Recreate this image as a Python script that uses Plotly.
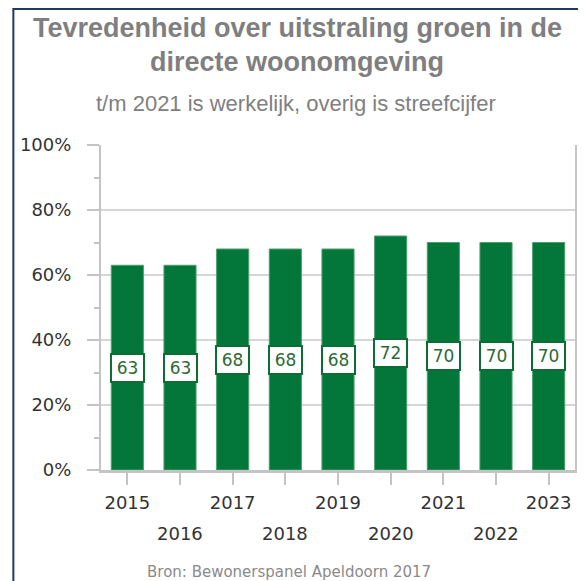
import plotly.graph_objects as go

# ---- data ----
years = ["2015", "2016", "2017", "2018", "2019", "2020", "2021", "2022", "2023"]
values = [63, 63, 68, 68, 68, 72, 70, 70, 70]
y_ticks = [0, 20, 40, 60, 80, 100]
y_tick_labels = ["0%", "20%", "40%", "60%", "80%", "100%"]
title_lines = ["Tevredenheid over uitstraling groen in de", "directe woonomgeving"]
subtitle = "t/m 2021 is werkelijk, overig is streefcijfer"
source = "Bron: Bewonerspanel Apeldoorn 2017"

# ---- layout geometry (page body adds an 8px offset) ----
OFF = 8
W, H = 586 - OFF, 581 - OFF
ML, MR, MT, MB = 101 - OFF, 9, 145 - OFF, 111
PW, PH = W - ML - MR, H - MT - MB


def px_x(px):
    return (px - OFF - ML) / PW


def px_y(py):
    return (H - MB - (py - OFF)) / PH


GREEN = "#03763A"
GRID = "#d6d6d6"
AXIS = "#c4c4c4"

fig = go.Figure()
fig.add_trace(go.Bar(
    x=years, y=values, width=0.61,
    marker=dict(color=GREEN, line=dict(color="#4f9e6c", width=1)),
    hoverinfo="skip",
))

annotations = []
# value labels (x given as category index so numeric-looking names are not read as positions)
for i, v in enumerate(values):
    annotations.append(dict(
        x=i, y=v / 2, xref="x", yref="y", text=str(v), showarrow=False,
        bgcolor="white", bordercolor="#0b6e35", borderwidth=2, borderpad=0,
        width=31, height=26,
        font=dict(family="DejaVu Sans", size=17, color="#2b6a36"),
    ))

# staggered x labels: even positions on the axis, odd positions one row lower
for i, yr in enumerate(years):
    if i % 2 == 1:
        annotations.append(dict(
            x=i, y=0, xref="x", yref="paper", yanchor="middle", yshift=-63,
            text=yr, showarrow=False,
            font=dict(family="DejaVu Sans", size=18, color="#333333"),
        ))

annotations += [
    dict(x=px_x(298), y=px_y(28), xref="paper", yref="paper", text="<b>%s</b>" % title_lines[0],
         showarrow=False, yanchor="middle", font=dict(family="Liberation Sans", size=27, color="#7f7f7f")),
    dict(x=px_x(298), y=px_y(62), xref="paper", yref="paper", text="<b>%s</b>" % title_lines[1],
         showarrow=False, yanchor="middle", font=dict(family="Liberation Sans", size=27, color="#7f7f7f")),
    dict(x=px_x(297), y=px_y(103), xref="paper", yref="paper", text=subtitle,
         showarrow=False, yanchor="middle", font=dict(family="Liberation Sans", size=22, color="#808080")),
    dict(x=px_x(290), y=px_y(572), xref="paper", yref="paper", text=source,
         showarrow=False, yanchor="middle", font=dict(family="DejaVu Sans", size=15, color="#8a8a8a")),
]

fig.update_layout(
    width=W, height=H,
    margin=dict(l=ML, r=MR, t=MT, b=MB, pad=0),
    paper_bgcolor="white", plot_bgcolor="white",
    showlegend=False,
    annotations=annotations,
    shapes=[dict(type="rect", xref="paper", yref="paper",
                 x0=px_x(13), x1=px_x(620), y0=px_y(620), y1=px_y(9),
                 line=dict(color="#1f3864", width=2), fillcolor="rgba(0,0,0,0)", layer="above")],
)

fig.update_xaxes(
    type="category", categoryorder="array", categoryarray=years,
    range=[-0.5, len(years) - 0.5], autorange=False,
    tickmode="array", tickvals=years,
    ticktext=[y if i % 2 == 0 else "" for i, y in enumerate(years)],
    tickangle=0,
    ticks="outside", ticklen=12, tickwidth=2, tickcolor=AXIS,
    showline=True, linecolor=AXIS, linewidth=3,
    showgrid=False, ticklabelstandoff=2,
    tickfont=dict(family="DejaVu Sans", size=18, color="#333333"),
)
fig.update_yaxes(
    range=[0, 100], autorange=False, tickmode="array", tickvals=y_ticks, ticktext=y_tick_labels,
    ticks="outside", ticklen=12, tickwidth=2, tickcolor=AXIS,
    showline=True, linecolor=AXIS, linewidth=2, mirror=True,
    showgrid=True, gridcolor=GRID, gridwidth=2,
    zeroline=False, ticklabelstandoff=12,
    minor=dict(dtick=10, tick0=0, ticks="outside", ticklen=5, tickwidth=2, tickcolor=AXIS, showgrid=False),
    tickfont=dict(family="DejaVu Sans", size=18, color="#333333"),
)

fig.write_html("out.html")
